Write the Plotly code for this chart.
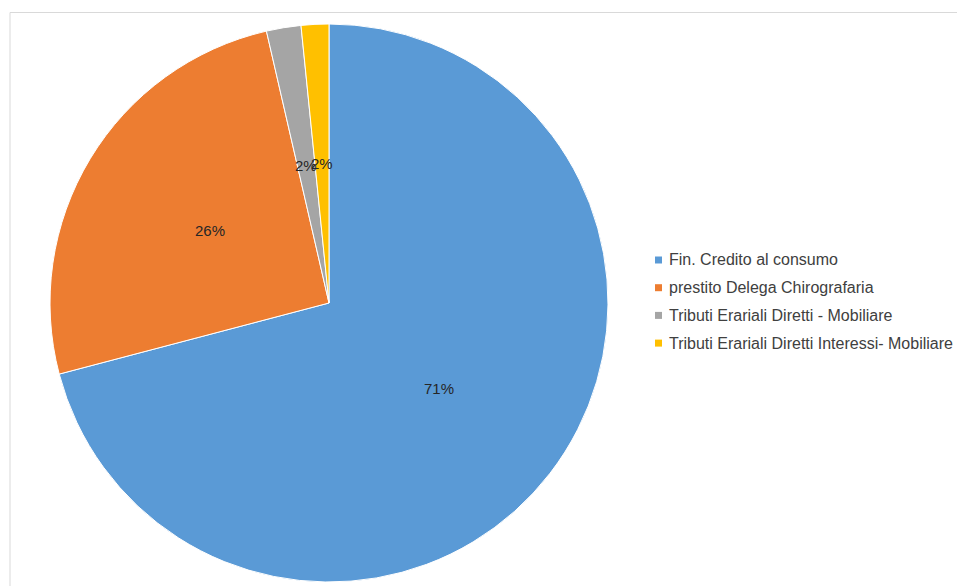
import math
import plotly.graph_objects as go

labels = ["Fin. Credito al consumo", "prestito Delega Chirografaria",
          "Tributi Erariali Diretti - Mobiliare", "Tributi Erariali Diretti Interessi- Mobiliare"]
values = [70.9, 25.5, 2.0, 1.6]
colors = ["#5A9AD6", "#ED7D31", "#A5A5A5", "#FFC000"]

W, H = 957, 586
cx, cy, R = 329, 303, 279  # pixel layout of pie

fig = go.Figure()
fig.add_trace(go.Pie(
    labels=labels, values=values, sort=False, direction="clockwise", rotation=0,
    marker=dict(colors=colors, line=dict(color="white", width=1)),
    textinfo="none", hoverinfo="label+percent", showlegend=False,
    domain=dict(x=[(cx - R) / W, (cx + R) / W], y=[(H - cy - R) / H, (H - cy + R) / H]),
))

annotations = []
shapes = []
total = sum(values)
cum = 0.0
for v in values:
    mid = (cum + v / 2) / total * 2 * math.pi
    cum += v
    px = cx + 0.5 * R * math.sin(mid)
    py = cy - 0.5 * R * math.cos(mid)
    annotations.append(dict(x=px / W, y=1 - py / H, xref="paper", yref="paper",
                            xanchor="center", yanchor="middle",
                            text=f"{round(v / total * 100)}%", showarrow=False,
                            font=dict(family="Liberation Sans, Arial", size=15, color="#262626")))

# custom legend
ly0, lgap = 260, 27.7
for i, (lab, col) in enumerate(zip(labels, colors)):
    y = ly0 + i * lgap
    shapes.append(dict(type="rect", xref="paper", yref="paper",
                       x0=655 / W, x1=662 / W, y0=1 - (y + 3.5) / H, y1=1 - (y - 3.5) / H,
                       fillcolor=col, line=dict(width=0)))
    annotations.append(dict(x=667 / W, y=1 - y / H, xref="paper", yref="paper",
                            xanchor="left", yanchor="middle",
                            text=lab, showarrow=False,
                            font=dict(family="Liberation Sans, Arial", size=16, color="#404040")))

# chart area border
shapes.append(dict(type="rect", xref="paper", yref="paper",
                   x0=10 / W, x1=1.2, y0=-0.2, y1=1 - 12.5 / H,
                   line=dict(color="#D9D9D9", width=1), fillcolor="rgba(0,0,0,0)"))

fig.update_layout(width=W, height=H, margin=dict(l=0, r=0, t=0, b=0),
                  paper_bgcolor="white", plot_bgcolor="white",
                  annotations=annotations, shapes=shapes, showlegend=False)
fig.write_html("out.html")
